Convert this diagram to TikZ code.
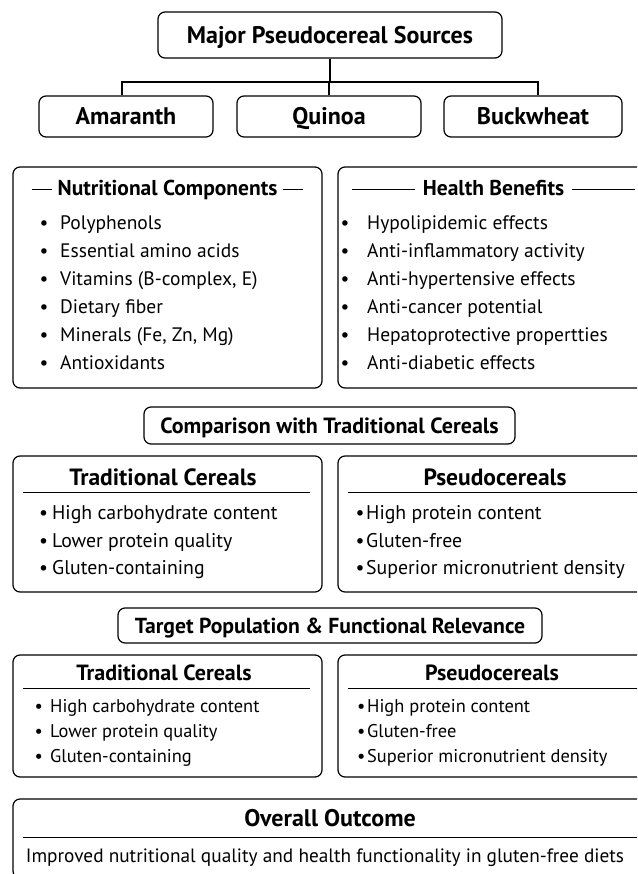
\documentclass[tikz,border=0pt]{standalone}
\usepackage{fontspec}
\setmainfont{PT Sans}
\begin{document}
\begin{tikzpicture}[x=1pt,y=-1pt,
  box/.style={draw, line width=1.2pt, rounded corners=7pt, inner sep=0pt},
  bd/.style={font=\bfseries\fontsize{#1pt}{#1pt}\selectfont, inner sep=0pt, text height=#1*0.7pt, text depth=0pt},
  rg/.style={font=\fontsize{#1pt}{#1pt}\selectfont, inner sep=0pt, text height=#1*0.7pt, text depth=0pt, anchor=west},
  conn/.style={line width=1.2pt},
  sep/.style={line width=1pt}
]
\useasboundingbox (0,0) rectangle (637,874);
\clip (0,0) rectangle (637,874);

% top
\node[box, minimum width=344pt, minimum height=46pt] (title) at (330,35) {};
\node[bd=24] (titlet) at (330,35) {Major Pseudocereal Sources};
\node[box, minimum width=174pt, minimum height=41pt] (amar) at (126,116.5) {};
\node[bd=24] (amart) at (126,116.5) {Amaranth};
\node[box, minimum width=184pt, minimum height=41pt] (quin) at (329,116.5) {};
\node[bd=24] (quint) at (329,116.5) {Quinoa};
\node[box, minimum width=178pt, minimum height=41pt] (buck) at (533,116.5) {};
\node[bd=24] (buckt) at (533,116.5) {Buckwheat};
\coordinate (bus) at (0,82);
\draw[conn] (title.south) -- (title.south |- bus);
\draw[conn] ([xshift=-4pt]amar.north) |- ([xshift=5pt]buck.north |- bus) -- ([xshift=5pt]buck.north);
\draw[conn] (quin.north) -- (quin.north |- bus);

% nutritional / health
\node[box, minimum width=309pt, minimum height=221pt] (nut) at (167.5,277.5) {};
\node[bd=21.5] (nutt) at (167.5,188) {\rule[5.5pt]{20pt}{1.2pt}\hspace{6pt}Nutritional Components\hspace{6pt}\rule[5.5pt]{20pt}{1.2pt}};
\node[box, minimum width=312pt, minimum height=221pt] (hb) at (494,277.5) {};
\node[bd=21.5] (hbt) at (493.5,188) {\rule[5.5pt]{63pt}{1.2pt}\hspace{8pt}Health Benefits\hspace{8pt}\rule[5.5pt]{63pt}{1.2pt}};
\foreach \t [count=\i] in {Polyphenols, Essential amino acids, {Vitamins (B-complex, E)}, Dietary fiber, {Minerals (Fe, Zn, Mg)}, Antioxidants}
  \node[rg=19.5] (nc\i) at (39.5,{223+(\i-1)*27.9}) {\makebox[20.5pt][l]{\textbullet}\t};
\foreach \t [count=\i] in {Hypolipidemic effects, Anti-inflammatory activity, Anti-hypertensive effects, Anti-cancer potential, Hepatoprotective propertties, Anti-diabetic effects}
  \node[rg=19.5] (hc\i) at (340.5,{223+(\i-1)*27.9}) {\makebox[26.5pt][l]{\textbullet}\t};

% comparison
\node[box, minimum width=371pt, minimum height=37pt] (comp) at (329.5,425.5) {};
\node[bd=22] (compt) at (329.5,425.5) {Comparison with Traditional Cereals};
\node[box, minimum width=309pt, minimum height=136pt] (tc1) at (167.5,524) {};
\node[bd=23.5] (tc1t) at (163,477) {Traditional Cereals};
\draw[sep] (23,492) -- (310,492);
\node[box, minimum width=312pt, minimum height=136pt] (pc1) at (494,524) {};
\node[bd=23.5] (pc1t) at (495,477) {Pseudocereals};
\draw[sep] (348,492) -- (640,492);
\foreach \t [count=\i] in {High carbohydrate content, Lower protein quality, Gluten-containing}
  \node[rg=19.8] (tca\i) at (39,{513+(\i-1)*27.5}) {\makebox[13pt][l]{\textbullet}\t};
\foreach \t [count=\i] in {High protein content, Gluten-free, Superior micronutrient density}
  \node[rg=19.8] (pca\i) at (355.5,{513+(\i-1)*27.5}) {\makebox[10.5pt][l]{\textbullet}\t};

% target
\node[box, minimum width=424pt, minimum height=35pt] (targ) at (330,625.5) {};
\node[bd=21.7] (targt) at (330,625.5) {Target Population \& Functional Relevance};
\node[box, minimum width=309pt, minimum height=122pt] (tc2) at (167.5,716) {};
\node[bd=22] (tc2t) at (164,673) {Traditional Cereals};
\draw[sep] (23,688) -- (310,688);
\node[box, minimum width=312pt, minimum height=122pt] (pc2) at (494,716) {};
\node[bd=22] (pc2t) at (492,673) {Pseudocereals};
\draw[sep] (348,688) -- (640,688);
\foreach \t [count=\i] in {High carbohydrate content, Lower protein quality, Gluten-containing}
  \node[rg=18.4] (tcb\i) at (34.5,{706+(\i-1)*25}) {\makebox[15.5pt][l]{\textbullet}\t};
\foreach \t [count=\i] in {High protein content, Gluten-free, Superior micronutrient density}
  \node[rg=18.4] (pcb\i) at (357,{706+(\i-1)*25}) {\makebox[10pt][l]{\textbullet}\t};

% overall
\node[box, minimum width=637pt, minimum height=79pt] (ov) at (331.5,838.5) {};
\node[bd=24] (ovt) at (330,818) {Overall Outcome};
\draw[sep] (23,837) -- (637,837);
\node[rg=19.3, anchor=center] (ovx) at (325,856) {Improved nutritional quality and health functionality in gluten-free diets};
\end{tikzpicture}
\end{document}
